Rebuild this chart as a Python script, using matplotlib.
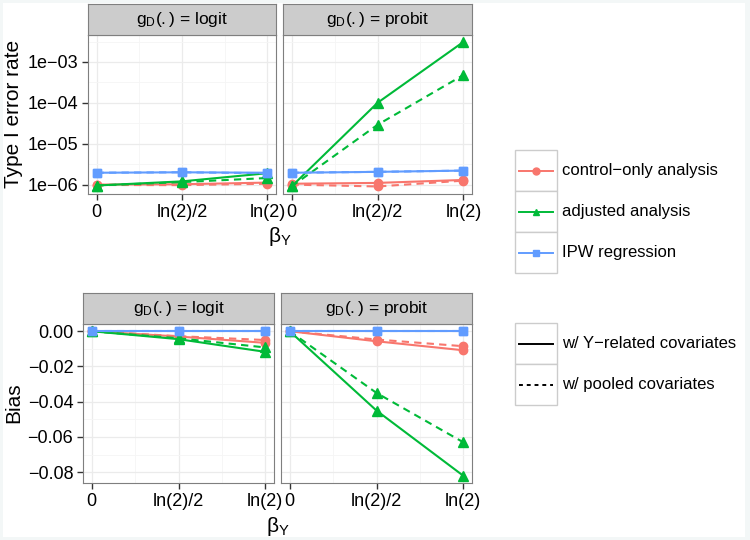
import numpy as np
import matplotlib
matplotlib.use("Agg")
import matplotlib.pyplot as plt
from matplotlib.patches import Rectangle
from matplotlib.lines import Line2D
from matplotlib.ticker import FixedLocator, NullFormatter

plt.rcParams['font.family'] = ['Liberation Sans', 'DejaVu Sans']
plt.rcParams['mathtext.fontset'] = 'custom'
plt.rcParams['mathtext.rm'] = 'Liberation Sans'
plt.rcParams['mathtext.it'] = 'Liberation Sans:italic'
plt.rcParams['mathtext.sf'] = 'Liberation Sans'

# ---- data ----
beta = [0, np.log(2) / 2, np.log(2)]
beta_labels = ['0', 'ln(2)/2', 'ln(2)']
methods = ['control\u2212only analysis', 'adjusted analysis', 'IPW regression']
colors = ['#F8766D', '#00BA38', '#619CFF']
markers = ['o', '^', 's']
cov_labels = ['w/ Y\u2212related covariates', 'w/ pooled covariates']

t1_logit_control = [[1.0e-6, 1.02e-6, 1.12e-6], [0.98e-6, 0.97e-6, 1.05e-6]]
t1_logit_adjusted = [[0.95e-6, 1.2e-6, 1.9e-6], [0.95e-6, 1.15e-6, 1.45e-6]]
t1_logit_ipw = [[1.95e-6, 2.0e-6, 1.95e-6], [1.95e-6, 2.0e-6, 1.9e-6]]
t1_probit_control = [[1.05e-6, 1.1e-6, 1.3e-6], [1.0e-6, 0.9e-6, 1.25e-6]]
t1_probit_adjusted = [[0.9e-6, 1.0e-4, 3.1e-3], [0.9e-6, 2.9e-5, 4.8e-4]]
t1_probit_ipw = [[1.95e-6, 2.05e-6, 2.2e-6], [1.95e-6, 2.05e-6, 2.2e-6]]

bias_logit_control = [[0, -0.003, -0.0066], [0, -0.0028, -0.005]]
bias_logit_adjusted = [[0, -0.0045, -0.0117], [0, -0.004, -0.0092]]
bias_logit_ipw = [[0, 0, 0], [0, 0, 0]]
bias_probit_control = [[0, -0.0057, -0.0108], [0, -0.0047, -0.0085]]
bias_probit_adjusted = [[0, -0.045, -0.082], [0, -0.035, -0.063]]
bias_probit_ipw = [[0, 0, 0], [0, 0, 0]]

t1_ticks = [1e-6, 1e-5, 1e-4, 1e-3]
t1_ticklabels = ['1e\u221206', '1e\u221205', '1e\u221204', '1e\u221203']
bias_ticks = [0.0, -0.02, -0.04, -0.06, -0.08]
bias_ticklabels = ['0.00', '\u22120.02', '\u22120.04', '\u22120.06', '\u22120.08']

strip_titles = [r'$\mathrm{g_D(.)}$ = logit', r'$\mathrm{g_D(.)}$ = probit']

W, H = 750, 540
fig = plt.figure(figsize=(7.5, 5.4), dpi=100, facecolor='#f3f7f7')
fig.patches.append(Rectangle((3 / W, 1 - 537 / H), 742 / W, 534 / H,
                             transform=fig.transFigure, facecolor='white',
                             edgecolor='none', zorder=-10))


def box(x0, y0, x1, y1):
    return [x0 / W, 1 - y1 / H, (x1 - x0) / W, (y1 - y0) / H]


ls_dash = (0, (3.5, 2.5))
msize = {'o': 6, '^': 7.5, 's': 5.5}
xr = np.log(2) * 0.05
xlim = (-xr, np.log(2) + xr)


def panel(rect, strip_rect, title, series, logy, show_y):
    ax = fig.add_axes(box(*rect))
    sax = fig.add_axes(box(*strip_rect))
    sax.set_facecolor('#cccccc')
    sax.set_xticks([]); sax.set_yticks([])
    for s in sax.spines.values():
        s.set_color('#7f7f7f'); s.set_linewidth(0.8)
    sax.text(0.5, 0.5, title, ha='center', va='center', fontsize=12.5,
             transform=sax.transAxes)

    for (vals, col, mk) in series:
        ax.plot(beta, vals[1], color=col, lw=1.5, ls=ls_dash, marker=mk,
                ms=msize[mk], zorder=3)
        ax.plot(beta, vals[0], color=col, lw=1.5, ls='-', marker=mk,
                ms=msize[mk], zorder=3)

    ax.set_xlim(*xlim)
    if logy:
        ax.set_yscale('log')
        ax.set_ylim(10 ** -6.23, 10 ** -2.34)
        ax.yaxis.set_major_locator(FixedLocator(t1_ticks))
        ax.yaxis.set_minor_locator(FixedLocator([10 ** v for v in (-5.5, -4.5, -3.5, -2.5)]))
        ax.set_yticklabels(t1_ticklabels if show_y else [])
    else:
        ax.set_ylim(-0.0861, 0.0041)
        ax.yaxis.set_major_locator(FixedLocator(bias_ticks))
        ax.yaxis.set_minor_locator(FixedLocator([-0.01, -0.03, -0.05, -0.07]))
        ax.set_yticklabels(bias_ticklabels if show_y else [])
    ax.yaxis.set_minor_formatter(NullFormatter())
    ax.xaxis.set_major_locator(FixedLocator(beta))
    ax.xaxis.set_minor_locator(FixedLocator([np.log(2) / 4, 3 * np.log(2) / 4]))
    ax.set_xticklabels(beta_labels)
    ax.grid(True, which='major', color='#ebebeb', lw=0.9)
    ax.grid(True, which='minor', color='#f5f5f5', lw=0.6)
    ax.set_axisbelow(True)
    for s in ax.spines.values():
        s.set_color('#7f7f7f'); s.set_linewidth(0.8)
    ax.tick_params(which='major', length=4, width=1, color='#333333',
                   labelsize=13, labelcolor='black', pad=3)
    ax.tick_params(which='minor', length=0)
    if not show_y:
        ax.tick_params(axis='y', which='major', length=0)
    return ax


t1_sets = [
    [(t1_logit_control, colors[0], markers[0]), (t1_logit_adjusted, colors[1], markers[1]),
     (t1_logit_ipw, colors[2], markers[2])],
    [(t1_probit_control, colors[0], markers[0]), (t1_probit_adjusted, colors[1], markers[1]),
     (t1_probit_ipw, colors[2], markers[2])],
]
bias_sets = [
    [(bias_logit_control, colors[0], markers[0]), (bias_logit_adjusted, colors[1], markers[1]),
     (bias_logit_ipw, colors[2], markers[2])],
    [(bias_probit_control, colors[0], markers[0]), (bias_probit_adjusted, colors[1], markers[1]),
     (bias_probit_ipw, colors[2], markers[2])],
]

panel((88, 35, 276, 194), (88, 4, 276, 35), strip_titles[0], t1_sets[0], True, True)
panel((283, 35, 472, 194), (283, 4, 472, 35), strip_titles[1], t1_sets[1], True, False)
panel((83, 324, 274, 483), (83, 293, 274, 324), strip_titles[0], bias_sets[0], False, True)
panel((281, 324, 472, 483), (281, 293, 472, 324), strip_titles[1], bias_sets[1], False, False)

fig.text(14 / W, 1 - 114 / H, 'Type I error rate', rotation=90, ha='center', va='center', fontsize=15)
fig.text(14 / W, 1 - 403 / H, 'Bias', rotation=90, ha='center', va='center', fontsize=15)
fig.text(280 / W, 1 - 237 / H, r'$\mathrm{\beta}_\mathrm{Y}$', ha='center', va='center', fontsize=15)
fig.text(278 / W, 1 - 526 / H, r'$\mathrm{\beta}_\mathrm{Y}$', ha='center', va='center', fontsize=15)

# ---- legends ----
lax = fig.add_axes([0, 0, 1, 1], facecolor='none')
lax.set_xlim(0, W); lax.set_ylim(H, 0)
lax.axis('off')


def legend_rows(top, labels, styles):
    for i, (lab, st) in enumerate(zip(labels, styles)):
        y0 = top + 41 * i
        lax.add_patch(Rectangle((515, y0), 42, 41, facecolor='white',
                                edgecolor='#cccccc', lw=1))
        yc = y0 + 20.5
        lax.add_line(Line2D([519, 553], [yc, yc], color=st[0], lw=1.4, ls=st[1]))
        if st[2]:
            lax.add_line(Line2D([536], [yc], marker=st[2], color=st[0], ls='none',
                                ms=5 if st[2] != 's' else 4.5))
        lax.text(562, yc, lab, ha='left', va='center', fontsize=12)


legend_rows(150, methods, [(c, '-', m) for c, m in zip(colors, markers)])
legend_rows(323, cov_labels, [('black', '-', None), ('black', (0, (2, 2)), None)])

fig.savefig('out.png', dpi=100, facecolor=fig.get_facecolor())
